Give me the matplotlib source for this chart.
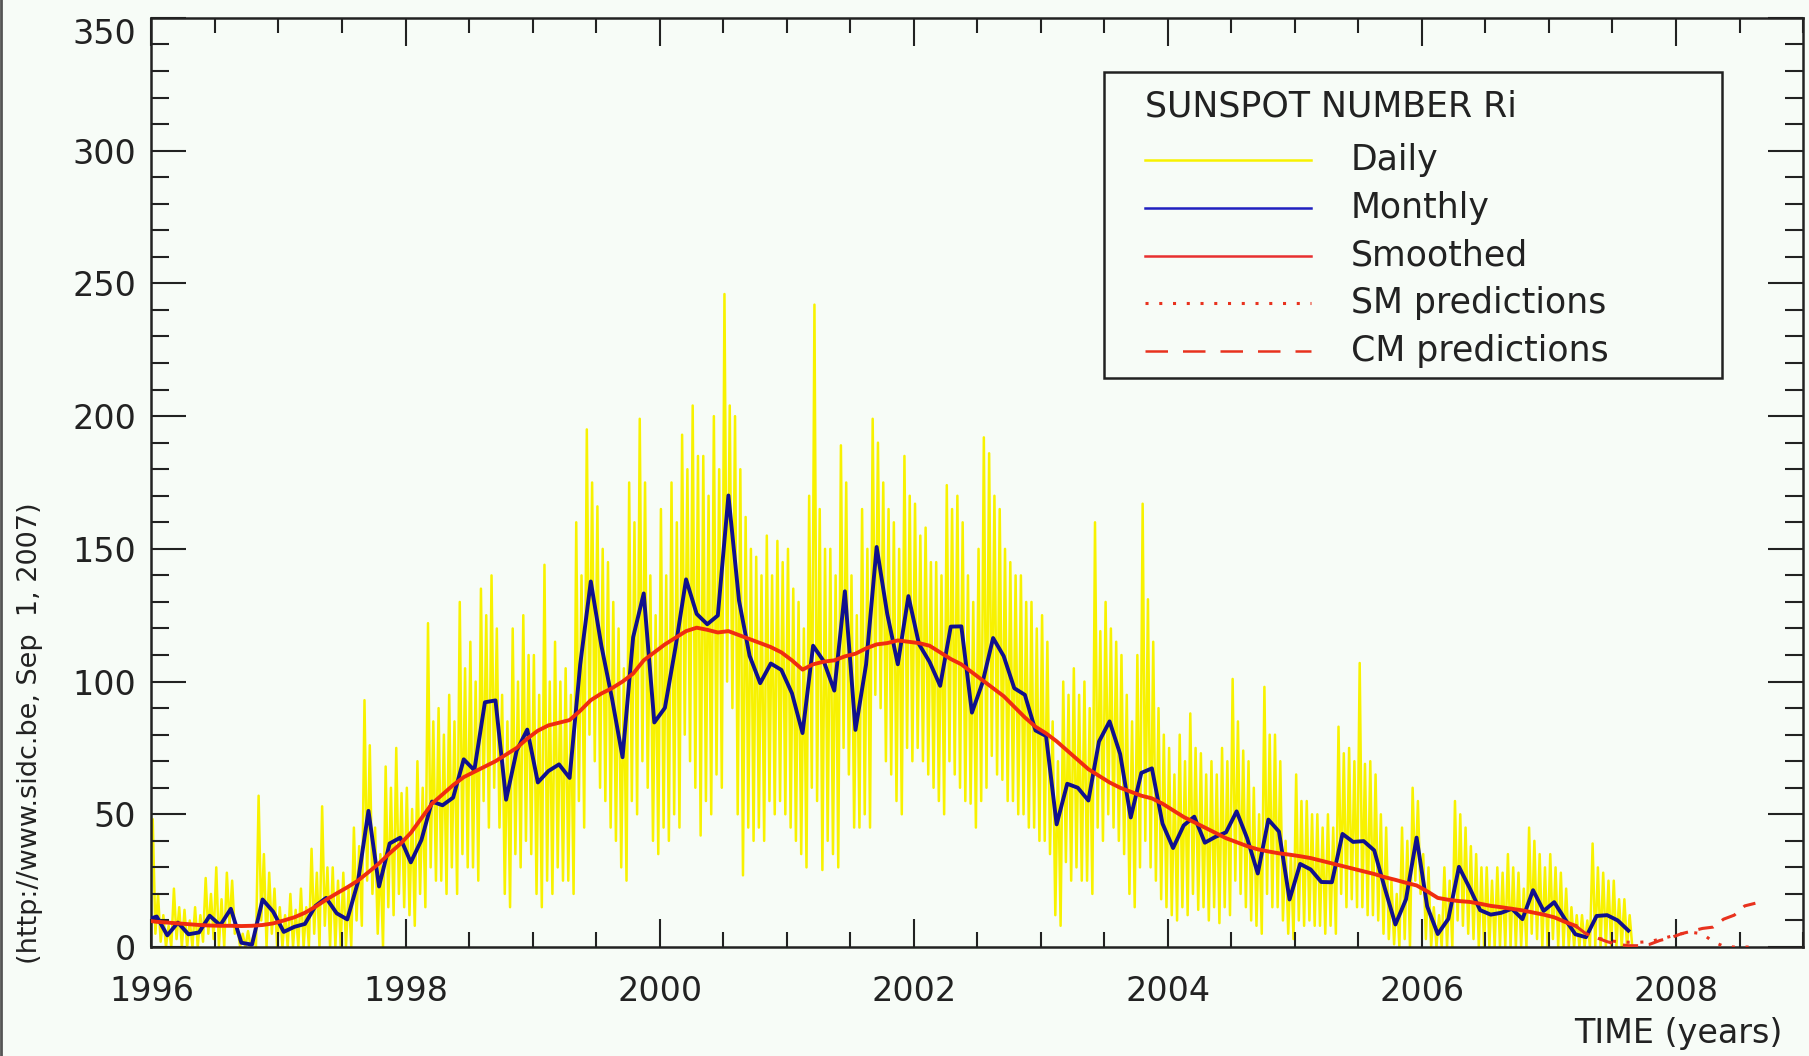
import numpy as np
import matplotlib.pyplot as plt
from matplotlib.patches import Rectangle
from matplotlib.lines import Line2D

# Monthly mean sunspot number Ri, Dec 1995 .. Aug 2007 (plotted mid-month)
monthly_start = 1995 + 11 / 12
monthly = [
    10.1,
    11.5, 4.4, 9.2, 4.8, 5.5, 11.8, 8.2, 14.4, 1.6, 0.9, 17.9, 13.3,
    5.7, 7.6, 8.7, 15.5, 18.5, 12.7, 10.4, 24.4, 51.3, 22.8, 39.0, 41.2,
    31.9, 40.3, 54.8, 53.4, 56.3, 70.7, 66.6, 92.2, 92.9, 55.5, 74.0, 81.9,
    62.0, 66.3, 68.8, 63.7, 106.4, 137.7, 113.5, 93.7, 71.5, 116.7, 133.2, 84.6,
    90.1, 112.9, 138.5, 125.5, 121.6, 124.9, 170.1, 130.5, 109.7, 99.4, 106.8, 104.4,
    95.6, 80.6, 113.5, 107.7, 96.6, 134.0, 81.8, 106.4, 150.7, 125.5, 106.5, 132.2,
    114.1, 107.4, 98.4, 120.7, 120.8, 88.3, 99.6, 116.4, 109.6, 97.5, 95.0, 81.6,
    79.5, 46.2, 61.5, 60.0, 55.2, 77.4, 85.0, 72.7, 48.8, 65.6, 67.3, 46.5,
    37.3, 45.8, 49.1, 39.3, 41.5, 43.2, 51.1, 40.9, 27.7, 48.0, 43.5, 17.9,
    31.3, 29.2, 24.5, 24.4, 42.6, 39.6, 39.9, 36.4, 22.1, 8.5, 18.0, 41.2,
    15.3, 4.9, 10.6, 30.2, 22.3, 13.9, 12.2, 12.9, 14.4, 10.5, 21.4, 13.6,
    16.9, 10.6, 4.8, 3.7, 11.7, 12.0, 10.0, 6.2,
]

# 13-month smoothed Ri, Dec 1995 .. Mar 2007
smoothed = [
    10.0,
    9.5, 9.2, 8.9, 8.6, 8.3, 8.1, 8.0, 8.0, 7.9, 8.0, 8.3, 8.9,
    10.0, 11.2, 12.9, 15.2, 17.8, 20.2, 22.5, 25.0, 28.2, 31.5, 35.3, 38.8,
    43.0, 48.5, 54.0, 57.5, 61.0, 64.0, 66.0, 68.0, 70.0, 72.5, 75.0, 78.5,
    81.5, 83.5, 84.5, 85.5, 89.0, 93.0, 95.5, 97.5, 100.0, 103.0, 108.0, 111.0,
    114.0, 116.5, 119.0, 120.3, 119.5, 118.5, 119.0, 117.5, 116.0, 114.5, 113.0, 111.0,
    108.0, 104.5, 106.5, 107.5, 108.0, 109.5, 110.5, 112.5, 114.0, 114.5, 115.5, 115.0,
    114.5, 113.5, 111.0, 108.5, 106.5, 103.5, 100.5, 97.5, 94.5, 90.5, 86.5, 83.0,
    80.5, 77.5, 74.0, 70.5, 67.0, 64.5, 62.0, 60.0, 58.5, 57.0, 56.0, 54.0,
    51.5, 49.0, 47.0, 45.0, 43.0, 41.0, 39.5, 38.0, 36.8, 36.0, 35.3, 34.8,
    34.2, 33.5, 32.5, 31.5, 30.5, 29.5, 28.5, 27.5, 26.3, 25.3, 24.2, 23.2,
    21.0, 18.5, 17.8, 17.3, 17.0, 16.3, 15.5, 15.0, 14.4, 13.8, 13.0, 12.2,
    11.2, 9.5, 8.0,
]

# Predictions of the smoothed number, Mar 2007 .. Aug 2008
pred_start = 2007 + 2 / 12
sm_pred = [8.0, 5.0, 3.5, 2.5, 2.0, 1.8, 1.8, 2.0, 3.0, 4.0,
           5.0, 5.5, 5.0, 2.0, 0.3, 0.0, 0.0, 0.0]
cm_pred = [8.0, 5.0, 3.5, 2.0, 1.0, 0.5, 0.5, 1.0, 2.5, 3.5,
           5.0, 6.0, 7.0, 7.5, 10.5, 12.0, 15.5, 16.5]

# Daily Ri, Jan 1996 .. Aug 2007, four readings per month (peak, dip, peak, dip)
daily_by_year = {
    1996: [48, 5, 20, 2, 12, 0, 8, 0, 22, 3, 15, 0, 14, 0, 10, 0,
           15, 0, 12, 2, 26, 5, 20, 3, 30, 0, 18, 0, 28, 8, 25, 5,
           8, 0, 5, 0, 6, 0, 4, 0, 57, 10, 35, 0, 28, 5, 22, 0],
    1997: [15, 0, 12, 0, 20, 0, 14, 0, 22, 0, 15, 0, 37, 5, 28, 0,
           53, 8, 30, 0, 30, 0, 25, 0, 28, 0, 22, 0, 45, 10, 38, 8,
           93, 25, 76, 20, 45, 5, 35, 0, 68, 15, 60, 12, 75, 20, 58, 15],
    1998: [60, 12, 52, 8, 70, 20, 60, 15, 122, 30, 85, 25, 90, 25, 80, 20,
           95, 30, 85, 20, 130, 35, 105, 30, 115, 30, 100, 25, 135, 55, 125, 45,
           140, 60, 120, 45, 95, 20, 85, 15, 120, 35, 100, 30, 125, 40, 110, 35],
    1999: [110, 20, 95, 15, 144, 25, 100, 20, 115, 30, 100, 25, 105, 25, 95, 20,
           160, 55, 140, 45, 195, 80, 175, 70, 166, 60, 150, 55, 145, 45, 130, 40,
           120, 30, 105, 25, 175, 55, 160, 50, 199, 70, 175, 60, 140, 40, 125, 35],
    2000: [165, 45, 140, 40, 175, 50, 160, 45, 193, 80, 180, 70, 204, 60, 185, 42,
           185, 55, 170, 50, 200, 65, 180, 60, 246, 100, 204, 90, 200, 50, 180, 27,
           162, 45, 150, 40, 147, 45, 140, 40, 155, 55, 140, 50, 153, 55, 145, 50],
    2001: [150, 45, 135, 40, 130, 35, 120, 30, 170, 60, 242, 55, 165, 29, 150, 40,
           150, 35, 140, 30, 189, 75, 175, 65, 140, 45, 125, 45, 165, 50, 150, 45,
           199, 95, 190, 90, 175, 70, 165, 65, 160, 55, 150, 50, 185, 75, 170, 70],
    2002: [167, 75, 155, 70, 158, 65, 145, 60, 145, 55, 140, 50, 174, 70, 165, 65,
           170, 60, 160, 55, 140, 54, 130, 45, 150, 55, 192, 60, 186, 72, 170, 65,
           165, 63, 150, 55, 145, 55, 140, 50, 140, 50, 130, 45, 130, 45, 120, 40],
    2003: [125, 40, 115, 35, 85, 12, 70, 8, 100, 32, 95, 25, 105, 30, 95, 25,
           100, 25, 90, 20, 160, 45, 119, 40, 130, 50, 120, 45, 115, 40, 110, 35,
           95, 20, 85, 15, 110, 30, 167, 40, 131, 30, 115, 25, 90, 18, 80, 15],
    2004: [75, 12, 65, 10, 80, 15, 70, 12, 88, 20, 75, 14, 73, 15, 65, 10,
           70, 15, 65, 9, 75, 15, 70, 12, 101, 25, 85, 20, 74, 15, 70, 10,
           60, 8, 50, 5, 98, 20, 80, 15, 80, 15, 70, 10, 40, 5, 35, 3],
    2005: [65, 10, 55, 8, 55, 10, 50, 8, 50, 8, 45, 5, 50, 8, 45, 5,
           83, 20, 73, 15, 75, 18, 70, 15, 107, 15, 69, 12, 70, 12, 65, 10,
           50, 5, 45, 3, 25, 1, 20, 0, 45, 3, 40, 0, 60, 25, 55, 20],
    2006: [35, 3, 30, 0, 15, 0, 12, 0, 30, 0, 25, 0, 55, 10, 50, 8,
           45, 5, 38, 3, 35, 0, 30, 0, 30, 0, 25, 0, 30, 0, 28, 0,
           35, 0, 30, 0, 28, 0, 22, 0, 45, 5, 40, 3, 35, 0, 30, 0],
    2007: [35, 3, 30, 0, 28, 0, 22, 0, 15, 0, 12, 0, 12, 0, 10, 0,
           39, 0, 30, 0, 28, 0, 25, 0, 25, 0, 18, 0, 18, 0, 12, 0],
}

bg = '#f7fcf7'
ink = '#222222'
c_daily = '#f8f200'
c_monthly = '#10108e'
c_smooth = '#f02c10'
c_pred = '#e8321e'

plt.rcParams['font.family'] = ['DejaVu Sans']

fig = plt.figure(figsize=(18.09, 10.56), dpi=100, facecolor=bg)
ax = fig.add_axes([0.0837, 0.1032, 0.9130, 0.8798], facecolor=bg)

# daily values: four per month, spread evenly through the month
t_daily, v_daily = [], []
for year, vals in daily_by_year.items():
    for i, v in enumerate(vals):
        t_daily.append(year + (i + 0.5) / 48)
        v_daily.append(v)

t_month = monthly_start + (np.arange(len(monthly)) + 0.5) / 12
t_smooth = monthly_start + (np.arange(len(smoothed)) + 0.5) / 12
t_pred = pred_start + (np.arange(len(sm_pred)) + 0.5) / 12

ax.plot(t_daily, v_daily, color=c_daily, lw=1.8, zorder=1)
ax.plot(t_month, monthly, color=c_monthly, lw=2.8, zorder=3)
ax.plot(t_smooth, smoothed, color=c_smooth, lw=2.8, zorder=4)
ax.plot(t_pred, sm_pred, color=c_pred, lw=2.2, ls=(0, (1, 3.5)), zorder=4)
ax.plot(t_pred, cm_pred, color=c_pred, lw=2.2, ls=(0, (5, 3.5)), zorder=4)

ax.set_xlim(1996, 2009)
ax.set_ylim(0, 350)
ax.set_xticks(np.arange(1996, 2009, 2))
ax.set_xticks(np.arange(1996, 2009.01, 0.5), minor=True)
ax.set_yticks(np.arange(0, 351, 50))
ax.set_yticks(np.arange(0, 351, 10), minor=True)

ax.tick_params(axis='x', which='major', direction='in', top=True, length=20,
               width=1.5, pad=20, labelsize=24, colors=ink)
ax.tick_params(axis='x', which='minor', direction='in', top=True, length=10.5,
               width=1.5, colors=ink)
ax.tick_params(axis='y', which='major', direction='in', right=True, length=25,
               width=1.5, pad=11, labelsize=24, colors=ink)
ax.tick_params(axis='y', which='minor', direction='in', right=True, length=13,
               width=1.5, colors=ink)
for s in ax.spines.values():
    s.set_linewidth(1.8)
    s.set_color(ink)
ax.yaxis.get_major_ticks()[-1].label1.set_verticalalignment('top')

# legend box drawn by hand
def ax_xy(px, py):
    return (px - 151.5) / (1803 - 151.5), (947 - py) / (947 - 18)

x0, y0 = ax_xy(1104, 378)
x1, y1 = ax_xy(1722, 72)
ax.add_patch(Rectangle((x0, y0), x1 - x0, y1 - y0, transform=ax.transAxes,
                       facecolor=bg, edgecolor=ink, lw=1.8, zorder=6))
tx, ty = ax_xy(1145, 107)
ax.text(tx, ty, 'SUNSPOT NUMBER Ri', transform=ax.transAxes, fontsize=25,
        color=ink, va='center', ha='left', zorder=7)

entries = [
    ('Daily', dict(color=c_daily, lw=1.8)),
    ('Monthly', dict(color='#2020c0', lw=1.8)),
    ('Smoothed', dict(color='#e83030', lw=1.8)),
    ('SM predictions', dict(color=c_pred, lw=2.2, ls=(0, (1, 3.5)))),
    ('CM predictions', dict(color=c_pred, lw=1.8, ls=(0, (9, 6)))),
]
row_y = [160, 208, 256, 303, 351]
for (label, style), py in zip(entries, row_y):
    lx0, ly = ax_xy(1145, py)
    lx1, _ = ax_xy(1311, py)
    ax.add_line(Line2D([lx0, lx1], [ly, ly], transform=ax.transAxes, zorder=7, **style))
    lt, _ = ax_xy(1351, py)
    ax.text(lt, ly, label, transform=ax.transAxes, fontsize=25, color=ink,
            va='center', ha='left', zorder=7)

fig.text(1782 / 1809, 1 - 1033 / 1056, 'TIME (years)', fontsize=24, color=ink,
         ha='right', va='center')
fig.text(30 / 1809, 1 - 733 / 1056, '(http://www.sidc.be, Sep  1, 2007)',
         fontsize=19.5, color=ink, rotation=90, ha='center', va='center')

# dark edge down the left side of the image
fig.add_artist(Line2D([0.0008, 0.0008], [0, 1], transform=fig.transFigure,
                      color='#555555', lw=2))

fig.savefig('out.png', dpi=100, facecolor=bg)
